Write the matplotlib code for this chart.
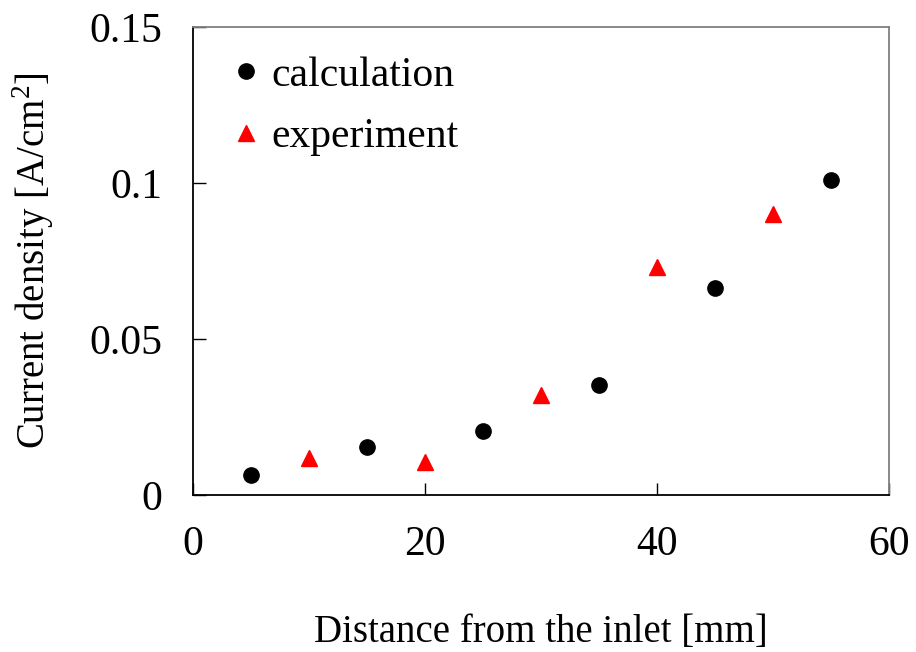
import numpy as np
import matplotlib.pyplot as plt
from matplotlib.ticker import FixedLocator, FixedFormatter

plt.rcParams['font.family'] = ['Liberation Serif', 'DejaVu Serif']
plt.rcParams['mathtext.fontset'] = 'custom'
plt.rcParams['mathtext.rm'] = 'Liberation Serif'

calc_x = [5, 15, 25, 35, 45, 55]
calc_y = [0.0064, 0.0154, 0.0205, 0.0353, 0.0663, 0.101]
exp_x = [10, 20, 30, 40, 50]
exp_y = [0.0119, 0.0106, 0.032, 0.073, 0.090]

x_ticks = [0, 20, 40, 60]
y_ticks = [0, 0.05, 0.1, 0.15]
y_labels = ["0", "0.05", "0.1", "0.15"]

fig = plt.figure(figsize=(9.16, 6.52), dpi=100)
ax = fig.add_axes([0.2107, 0.2408, 0.7598, 0.7178])

ax.plot(calc_x, calc_y, 'o', color='black', markersize=11, label="calculation")
ax.plot(exp_x, exp_y, '^', color='#ff0000', markersize=11, label="experiment")

ax.set_xlim(0, 60)
ax.set_ylim(0, 0.15)
ax.xaxis.set_major_locator(FixedLocator(x_ticks))
ax.yaxis.set_major_locator(FixedLocator(y_ticks))
ax.yaxis.set_major_formatter(FixedFormatter(y_labels))
ax.tick_params(direction='in', length=9, width=1, labelsize=30,
               top=False, right=False)
ax.tick_params(axis='x', pad=22)
ax.tick_params(axis='y', pad=22)

for s in ['top', 'right']:
    ax.spines[s].set_color('#808080')
for s in ax.spines.values():
    s.set_linewidth(1.3)

ax.set_xlabel("Distance from the inlet [mm]", fontsize=28, labelpad=36)
ax.set_ylabel("Current density [A/cm$^2$]", fontsize=28, labelpad=24)

ax.legend(loc='upper left', frameon=False, fontsize=30, handletextpad=0.0,
          borderaxespad=0.5, labelspacing=0.55, handlelength=1.2,
          bbox_to_anchor=(-0.013, 1.017))

fig.savefig("out.png", dpi=100)
